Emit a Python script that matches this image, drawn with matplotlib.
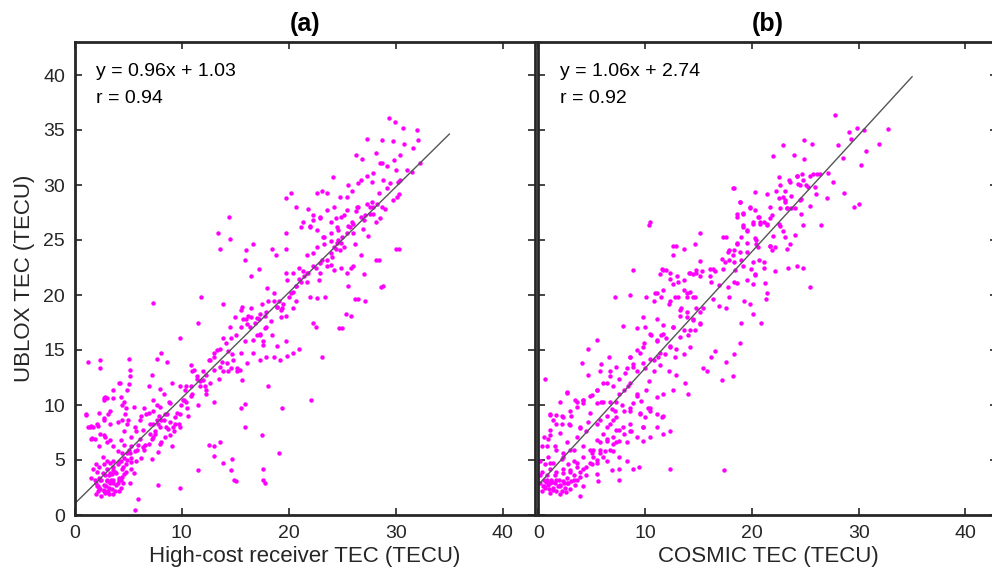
import numpy as np
import matplotlib.pyplot as plt

plt.rcParams['font.family'] = ['Liberation Sans', 'DejaVu Sans']

# (x, y) points, panel (a): high-cost receiver vs UBLOX
pts_a = [
    (29.4, 36.1), (29.9, 35.7), (30.7, 35.2), (32.0, 35.0), (27.3, 34.2), (28.7, 34.1), (29.7, 34.0),
    (30.8, 33.7), (31.6, 33.4), (32.1, 34.1), (26.3, 32.7), (26.8, 32.4), (28.1, 32.9), (28.7, 32.0),
    (30.4, 32.7), (30.0, 31.4), (31.5, 31.2), (32.3, 32.0), (24.1, 30.7), (25.5, 30.0), (26.5, 30.2),
    (27.8, 30.3), (28.4, 29.3), (29.2, 29.7), (30.2, 30.3), (30.3, 29.2), (29.7, 28.6), (23.1, 29.5),
    (23.6, 29.3), (22.6, 29.3), (19.7, 28.8), (20.2, 29.3), (20.7, 28.0), (14.4, 27.1), (13.4, 25.6),
    (13.6, 24.2), (14.5, 25.1), (16.0, 24.1), (16.7, 24.6), (18.4, 24.2), (18.8, 23.6), (19.7, 25.6),
    (19.7, 24.2), (15.9, 23.2), (16.5, 21.7), (17.2, 22.4),
    (21.3, 26.6), (21.8, 27.8), (22.3, 27.3), (22.9, 27.0), (22.0, 26.3), (22.6, 25.9), (23.3, 25.3),
    (23.9, 26.6), (24.6, 25.9), (25.2, 27.3), (25.9, 26.6), (26.5, 28.0), (27.1, 27.3), (27.6, 28.0),
    (28.1, 26.6), (28.7, 28.0), (27.8, 28.5), (25.5, 26.3), (26.0, 25.6), (25.0, 25.3), (23.9, 24.9),
    (23.3, 24.6), (24.4, 24.2), (25.2, 24.4), (26.2, 24.6), (26.7, 23.6), (27.0, 21.9), (28.1, 23.2),
    (25.8, 22.5), (24.9, 22.5), (23.9, 22.7), (23.1, 23.2), (22.5, 22.5), (21.7, 23.6), (21.3, 22.2),
    (21.0, 21.5), (20.7, 20.8), (21.7, 21.2), (22.0, 19.8), (22.6, 19.7), (23.4, 19.8), (25.5, 20.8),
    (26.5, 19.6), (27.1, 19.5), (25.8, 18.1), (24.7, 17.0), (22.3, 17.5), (22.5, 17.1), (23.1, 14.4),
    (28.6, 20.7), (28.4, 23.2), (30.0, 24.2), (21.7, 22.0), (20.4, 22.0), (21.0, 22.5), (30.3, 24.2),
    (28.8, 20.8), (25.0, 17.0), (25.3, 18.3), (26.2, 19.6), (24.4, 27.0), (26.9, 26.0), (27.4, 25.4),
    (24.0, 23.5), (22.8, 21.4), (27.9, 27.4), (29.0, 27.8), (28.5, 27.0), (26.3, 27.6), (24.9, 24.7),
    (15.5, 18.6), (15.7, 17.8), (16.2, 18.1), (16.5, 18.8), (16.8, 17.5), (17.5, 19.2), (17.8, 18.1),
    (18.1, 19.5), (18.6, 20.2), (19.1, 19.5), (19.4, 18.8), (19.7, 18.1), (20.2, 20.2), (20.7, 19.5),
    (20.4, 18.8), (17.8, 17.0), (17.3, 16.4), (17.6, 15.8), (18.4, 16.4), (18.9, 15.4), (19.7, 15.8),
    (20.4, 14.7), (21.0, 15.1), (18.6, 14.4), (18.1, 11.7), (16.7, 14.7), (15.9, 15.8), (15.5, 14.7),
    (15.2, 13.4), (14.6, 13.4), (13.8, 13.9), (13.9, 13.1), (13.0, 14.4), (14.3, 14.9), (13.9, 19.2),
    (14.6, 16.1), (12.3, 12.7), (11.7, 12.2), (12.2, 11.7), (12.6, 12.0), (11.0, 11.0), (11.5, 17.5),
    (11.8, 19.8), (10.4, 11.7), (11.0, 13.1), (13.0, 10.3), (15.5, 9.7), (15.9, 8.0), (15.9, 10.1),
    (19.4, 9.7), (22.1, 10.5), (19.1, 5.6), (17.5, 7.3), (17.6, 4.2), (17.8, 2.9), (17.6, 3.2),
    (12.5, 6.4), (13.0, 6.3), (13.6, 6.6), (13.0, 5.4), (14.7, 5.1), (13.9, 4.7), (11.5, 4.1),
    (14.6, 4.1), (14.9, 3.2), (15.1, 3.1), (18.0, 20.6), (18.9, 18.9), (17.0, 17.9), (19.8, 21.4),
    (10.4, 10.3), (10.9, 11.7), (11.4, 12.4), (12.0, 13.1), (12.5, 14.1), (13.0, 14.7), (13.6, 15.1),
    (14.1, 15.6), (14.7, 14.6), (15.1, 16.4), (15.5, 17.1), (16.0, 17.8), (16.4, 17.1), (17.0, 16.4),
    (17.2, 17.8), (15.2, 13.1), (14.3, 13.1), (13.5, 12.4), (12.3, 11.0), (11.5, 10.0), (10.6, 9.0),
    (6.5, 9.7), (6.9, 9.3), (7.3, 10.5), (7.7, 10.0), (8.0, 11.5), (8.3, 11.0), (8.8, 10.3),
    (7.8, 8.3), (8.1, 8.6), (8.5, 8.0), (8.9, 8.5), (7.5, 7.6), (7.2, 6.9), (8.1, 6.6),
    (8.9, 7.3), (9.4, 8.3), (9.6, 9.3), (9.9, 10.0), (10.2, 10.5), (9.8, 8.0), (9.1, 6.3),
    (9.3, 7.6), (9.8, 11.7), (9.1, 12.0), (8.1, 14.7), (8.6, 13.9), (7.7, 14.2), (9.8, 16.1),
    (10.9, 13.6), (7.2, 12.7), (6.9, 11.7), (6.2, 9.0), (5.7, 7.6), (6.1, 6.9), (6.5, 5.9),
    (6.2, 5.2), (5.3, 5.2), (7.2, 5.1), (7.8, 5.7), (7.3, 8.3), (4.6, 7.6), (4.9, 8.3),
    (5.3, 7.1), (4.6, 6.4), (8.4, 9.2), (7.9, 9.0), (8.7, 7.8), (7.0, 7.4), (6.6, 6.4),
    (1.2, 13.9), (2.4, 14.1), (2.4, 13.4), (5.1, 14.2), (5.2, 13.2), (4.1, 12.0), (5.1, 11.9),
    (3.6, 11.4), (2.8, 10.7), (2.7, 10.5), (4.3, 10.7), (4.6, 10.3), (4.8, 9.7), (3.3, 9.5),
    (2.3, 9.3), (1.1, 9.2), (1.5, 8.1), (2.2, 8.1), (2.7, 8.6), (3.3, 8.3), (4.0, 8.5),
    (4.4, 8.6), (1.9, 6.9), (2.7, 7.3), (3.0, 6.6), (3.6, 6.3), (2.3, 6.3), (1.2, 8.0),
    (1.5, 6.9), (4.3, 6.8), (4.0, 5.8), (3.6, 4.9),
    (2.0, 2.9), (2.2, 2.2), (2.3, 2.5), (2.5, 3.2), (2.7, 2.7), (2.8, 2.0), (3.0, 3.1),
    (3.2, 3.6), (3.3, 2.9), (3.5, 2.4), (3.6, 3.2), (3.8, 3.9), (4.0, 2.9), (4.1, 3.4),
    (4.3, 2.5), (4.4, 4.2), (2.1, 3.9), (2.3, 4.4), (2.7, 4.6), (3.0, 4.2), (3.3, 4.7),
    (3.6, 4.1), (4.0, 4.6), (4.3, 4.9), (4.6, 5.2), (4.8, 4.6), (4.9, 5.6), (5.1, 5.9),
    (5.3, 6.3), (5.6, 5.8), (5.7, 4.9), (5.9, 6.4), (5.3, 4.2), (5.2, 2.9), (2.0, 1.9),
    (2.5, 1.7), (3.2, 1.9), (3.8, 2.2), (4.3, 3.2), (4.6, 3.7), (2.8, 3.6), (2.3, 3.4),
    (3.2, 2.5), (4.1, 2.2), (3.6, 1.9), (1.9, 3.2), (2.7, 2.2), (3.4, 3.2), (4.5, 2.9),
    (3.0, 4.9), (2.0, 4.6), (2.6, 5.3), (1.5, 3.4), (1.7, 4.2), (2.4, 2.4), (2.9, 2.6),
    (3.1, 2.2), (3.9, 2.7), (4.8, 3.9), (2.1, 2.6), (2.6, 3.8), (3.5, 3.7),
    (7.3, 19.3), (5.9, 1.5), (5.6, 0.5), (7.8, 2.7), (9.8, 2.5), (19.7, 22.0),
    # second pass over the dense parts
    (1.1, 9.1), (1.4, 8.0), (1.7, 8.0), (1.6, 7.0), (2.1, 8.3), (2.4, 7.4), (2.8, 7.1),
    (3.3, 6.8), (2.7, 8.8), (3.1, 9.2), (2.7, 10.6), (3.0, 10.6), (3.6, 10.6), (4.2, 12.0),
    (4.9, 11.4), (5.2, 12.6), (4.4, 10.0), (4.7, 9.2), (5.0, 8.6), (5.5, 9.8), (5.6, 8.0),
    (6.1, 8.6), (6.4, 7.7), (6.7, 9.2), (7.0, 8.3), (7.5, 7.4), (7.7, 8.6), (8.0, 8.0),
    (8.3, 8.6), (8.6, 9.2), (8.0, 9.8), (7.3, 9.5), (8.9, 10.2), (9.2, 8.0), (9.4, 8.9),
    (9.7, 8.3), (9.8, 9.2), (10.1, 10.5), (10.3, 11.4), (10.5, 9.7), (6.4, 6.2), (6.9, 6.5),
    (7.3, 7.1), (8.0, 6.5), (8.4, 7.1), (5.8, 5.9), (5.2, 5.6), (4.9, 5.0), (4.4, 5.6),
    (4.1, 4.8), (3.6, 4.4), (3.3, 3.8), (3.9, 3.8), (4.4, 3.5), (3.0, 3.2), (2.4, 3.2),
    (2.2, 2.6), (2.7, 2.3), (3.6, 2.9), (4.1, 3.2), (4.5, 4.4), (5.3, 4.8), (5.5, 3.8),
    (12.6, 14.1), (13.0, 13.2), (13.6, 13.5), (14.2, 13.8), (14.8, 14.1), (12.0, 12.3), (12.3, 11.4),
    (11.7, 11.7), (10.9, 10.8), (11.4, 12.6), (11.1, 13.2), (15.4, 13.2), (16.1, 13.8), (15.6, 12.3),
    (16.7, 15.9), (17.3, 16.5), (17.9, 17.1), (16.1, 17.4), (16.5, 18.0), (17.3, 18.3), (17.9, 18.5),
    (18.3, 17.6), (18.9, 18.9), (19.3, 18.0), (18.6, 19.5), (15.6, 18.9), (15.0, 18.0), (14.5, 17.1),
    (13.9, 16.1), (13.3, 15.0), (17.3, 14.1), (17.9, 14.4), (19.2, 14.1), (19.8, 14.5), (17.6, 15.5),
    (24.5, 24.7), (24.2, 24.4), (24.8, 24.1), (24.6, 25.0), (23.9, 23.8), (23.6, 23.2), (22.9, 22.9),
    (22.3, 22.6), (21.8, 22.0), (21.4, 21.7), (21.1, 21.2), (20.7, 20.8), (20.4, 20.3), (20.0, 19.8),
    (19.5, 19.2), (19.3, 18.6), (25.4, 25.6), (25.7, 26.2), (26.0, 26.5), (26.7, 27.1), (27.0, 26.8),
    (27.6, 27.4), (27.9, 28.0), (28.2, 28.3), (27.3, 28.3), (26.4, 28.0), (25.4, 27.7), (24.9, 27.1),
    (24.5, 26.2), (23.9, 25.6), (23.2, 25.3), (22.6, 24.4), (22.3, 23.8), (22.9, 22.0), (23.6, 22.6),
    (24.2, 22.3), (25.4, 22.0), (26.0, 22.6), (25.4, 28.9), (25.9, 29.5), (26.7, 30.5), (27.3, 30.8),
    (27.9, 31.1), (28.5, 32.0), (29.2, 31.7), (29.8, 32.3), (30.4, 30.5), (30.1, 28.9), (31.0, 31.4),
    (28.8, 30.5), (29.5, 30.2), (24.8, 28.9), (24.2, 28.0), (23.6, 27.7), (22.9, 27.1), (22.3, 26.8),
    (22.0, 26.2), (21.1, 26.2),
]

# panel (b): COSMIC vs UBLOX
pts_b = [
    (27.8, 36.4), (29.1, 34.8), (29.8, 35.2), (30.5, 35.0), (32.7, 35.1), (31.9, 33.7), (30.7, 33.1),
    (29.3, 34.2), (28.1, 33.6), (24.9, 34.1), (25.6, 33.7), (22.9, 33.6), (23.9, 32.7), (24.9, 32.4),
    (22.0, 32.6), (28.5, 32.5), (30.2, 31.8), (27.1, 31.1), (25.7, 31.0), (26.1, 31.0), (24.7, 31.0),
    (24.2, 30.8), (22.5, 30.7), (23.6, 30.3), (25.1, 30.0), (24.3, 30.1), (22.6, 30.0), (23.1, 29.5),
    (28.6, 29.3), (27.0, 28.8), (30.0, 28.3), (29.6, 28.0), (26.5, 26.4), (25.4, 28.1), (24.6, 28.7),
    (23.1, 28.6), (22.5, 28.8), (21.7, 28.0), (23.3, 27.9), (24.0, 27.9), (24.6, 27.4), (18.2, 29.7),
    (18.9, 28.5), (20.3, 29.4), (21.4, 29.2), (19.8, 28.0), (18.6, 27.4), (19.2, 27.5), (20.7, 27.1),
    (21.1, 26.6), (20.1, 26.6), (20.8, 26.6), (21.4, 26.4), (19.2, 26.4), (22.6, 26.3), (22.9, 25.8),
    (23.1, 25.3), (24.0, 25.5), (22.0, 25.4), (21.7, 24.5), (22.2, 24.4), (23.3, 24.2), (23.6, 24.6),
    (19.5, 25.9), (20.3, 25.2), (18.6, 24.6), (17.9, 24.1), (18.2, 23.6), (19.0, 23.2), (19.5, 23.9),
    (20.4, 24.6), (20.7, 23.2), (21.1, 22.5), (22.2, 22.2), (20.3, 21.9), (20.1, 21.0), (21.2, 21.1),
    (21.4, 20.2), (21.3, 19.6), (19.3, 19.5), (19.8, 19.2), (20.9, 17.5), (20.1, 18.3), (19.0, 17.5),
    (18.9, 15.6), (18.3, 14.6), (17.6, 13.9), (18.2, 12.6), (17.2, 12.3), (16.5, 14.9), (16.2, 14.4),
    (15.4, 13.4), (15.8, 13.1), (23.4, 22.5), (24.2, 22.6), (24.8, 22.5), (25.4, 20.7), (24.8, 26.4),
    (26.4, 31.0), (10.5, 26.6), (10.4, 26.4), (17.3, 25.3), (17.6, 25.3), (17.2, 23.3), (17.9, 23.2),
    (16.5, 22.2), (16.1, 22.4), (17.3, 22.4), (17.9, 19.8), (17.6, 18.8), (16.4, 19.6), (16.9, 19.0),
    (17.8, 20.7), (18.3, 21.2), (21.9, 27.3), (23.7, 29.0), (26.0, 29.2), (27.6, 30.3), (19.9, 22.4),
    (12.6, 24.5), (12.9, 24.5), (13.6, 24.2), (14.7, 24.6), (15.1, 25.6), (11.6, 22.4), (12.0, 22.3),
    (12.6, 23.6), (14.1, 22.0), (14.5, 21.9), (14.8, 22.0), (15.1, 23.1), (15.3, 22.2), (11.4, 21.9),
    (12.3, 21.5), (12.6, 21.0), (13.1, 21.2), (13.6, 20.5), (13.9, 19.8), (14.2, 20.3), (14.7, 19.8),
    (10.9, 20.2), (11.5, 19.8), (12.2, 19.2), (12.8, 19.8), (13.4, 18.8), (13.9, 18.5), (14.8, 18.8),
    (15.1, 18.5), (15.4, 18.8), (14.5, 17.8), (15.1, 17.5), (13.3, 18.1), (12.6, 17.1), (13.6, 16.8),
    (14.0, 16.4), (14.7, 16.8), (10.1, 19.8), (10.8, 19.5), (9.8, 18.0), (8.9, 22.3), (8.6, 20.0),
    (7.2, 19.8), (7.9, 17.2), (9.2, 17.0), (10.0, 17.1), (11.1, 17.8), (11.7, 17.3), (11.5, 16.4),
    (10.6, 16.4), (11.1, 15.8), (12.0, 16.1), (12.3, 15.4), (12.9, 15.1), (13.6, 14.6), (14.2, 15.3),
    (12.8, 14.4), (11.9, 14.6), (11.2, 14.4), (10.5, 14.2), (9.5, 14.7), (8.9, 13.7), (8.3, 13.4),
    (8.6, 14.4), (9.2, 13.1), (10.0, 13.4), (10.8, 13.1), (11.4, 13.6), (12.2, 13.1), (12.9, 12.7),
    (13.7, 12.0), (14.0, 11.0), (12.6, 11.4), (11.7, 11.0), (11.1, 10.7), (10.1, 11.4), (9.2, 11.0),
    (8.4, 11.7), (7.6, 12.4), (7.6, 11.0), (7.0, 11.7), (6.4, 12.0), (6.6, 14.4), (5.9, 13.7),
    (5.8, 13.1), (6.7, 13.1), (5.5, 15.9), (4.7, 15.1), (4.1, 13.8), (4.7, 12.7), (5.5, 11.4),
    (6.1, 10.3), (7.3, 10.3), (8.6, 9.7), (9.5, 9.3), (10.3, 9.7), (11.7, 9.0), (12.3, 7.6),
    (11.1, 8.0), (9.8, 8.0), (8.7, 7.6), (7.9, 8.0), (7.0, 8.6), (6.4, 9.0), (5.5, 8.3),
    (4.8, 9.3), (4.2, 10.5), (3.6, 10.3), (2.7, 11.2), (2.0, 10.3), (3.1, 9.0), (2.2, 9.0),
    (1.4, 8.6), (1.1, 9.2), (0.6, 12.4), (2.9, 8.3), (3.9, 8.0), (4.5, 7.6), (3.6, 7.1),
    (2.7, 6.6), (2.0, 7.5), (1.1, 7.3), (0.5, 7.1), (0.8, 6.3), (1.6, 6.3), (2.3, 5.6),
    (3.3, 5.9), (4.2, 6.3), (5.0, 5.6), (5.8, 6.6), (6.4, 6.9), (7.3, 6.6), (8.3, 6.6),
    (5.8, 5.6), (6.4, 4.9), (7.0, 5.8), (7.6, 5.3), (8.3, 4.9), (8.9, 4.2), (9.4, 4.4),
    (7.6, 3.2), (5.6, 3.1), (5.0, 4.6), (4.2, 4.2), (3.9, 1.7), (12.3, 4.2), (17.4, 4.1),
    (5.5, 3.7), (4.5, 3.6), (9.9, 15.6), (10.4, 12.2), (8.1, 12.9), (6.9, 9.6), (9.6, 10.4),
    (0.2, 2.9), (0.3, 2.2), (0.5, 3.2), (0.6, 2.5), (0.8, 3.6), (0.9, 2.7), (1.1, 2.0),
    (1.2, 3.2), (1.4, 2.5), (1.6, 2.9), (1.7, 2.2), (1.9, 3.2), (2.0, 2.7), (2.2, 2.2),
    (2.3, 3.1), (2.5, 2.5), (2.7, 3.4), (2.8, 2.9), (3.0, 2.4), (3.1, 3.1), (3.3, 3.6),
    (3.4, 2.7), (3.6, 3.2), (2.0, 1.9), (2.3, 4.2), (1.7, 3.9), (1.1, 4.2), (0.6, 4.6),
    (0.2, 4.9), (0.3, 3.9), (1.4, 4.7), (2.8, 4.6), (3.3, 4.9), (2.2, 5.1), (0.9, 5.3),
    (3.9, 3.9), (3.6, 4.4), (3.0, 3.9), (0.2, 3.6), (1.6, 3.6), (0.3, 6.3), (0.9, 6.9),
    (0.4, 2.6), (1.0, 2.4), (1.3, 3.0), (1.8, 2.6), (2.4, 2.9), (2.6, 2.1), (0.7, 3.0),
    # second pass over the dense parts
    (11.7, 22.3), (12.3, 22.0), (13.0, 21.7), (13.6, 21.4), (14.2, 22.0), (14.8, 22.3), (15.1, 21.7),
    (11.1, 20.2), (11.7, 20.5), (12.3, 19.5), (13.1, 19.8), (13.9, 20.2), (14.5, 19.8), (13.3, 18.6),
    (13.9, 18.0), (14.5, 17.7), (15.1, 17.4), (12.6, 17.1), (11.7, 16.5), (11.1, 15.9), (10.5, 16.5),
    (9.8, 15.3), (9.2, 15.0), (8.6, 14.4), (8.9, 13.5), (9.8, 13.8), (10.8, 14.1), (11.4, 14.7),
    (12.3, 15.3), (13.3, 16.2), (14.2, 16.8), (7.3, 13.5), (6.7, 12.6), (6.1, 12.0), (5.5, 11.4),
    (4.8, 10.8), (4.2, 10.2), (3.6, 9.8), (3.0, 9.5), (2.3, 8.9), (1.7, 8.3), (1.1, 7.7),
    (8.0, 11.4), (8.6, 12.0), (9.2, 10.8), (8.0, 9.5), (8.6, 8.3), (7.3, 8.9), (6.7, 8.3),
    (6.1, 7.4), (5.5, 6.8), (4.8, 5.9), (4.2, 5.3), (3.6, 4.7), (3.0, 4.1), (2.3, 3.8),
    (1.7, 3.2), (1.1, 2.9), (0.5, 2.6), (7.0, 7.1), (7.6, 7.7), (9.8, 8.0), (10.5, 9.5),
    (6.7, 5.9), (6.1, 5.3), (5.5, 4.7), (5.1, 5.9), (4.5, 4.4), (3.3, 3.2), (2.7, 2.9),
    (2.0, 2.6), (1.4, 2.3), (0.8, 3.2), (3.9, 3.5), (4.2, 2.6), (3.0, 5.9), (2.3, 5.3),
    (1.7, 5.9), (1.1, 4.7), (18.3, 29.7), (18.9, 28.5), (18.6, 27.1), (19.2, 27.4), (19.8, 27.9),
    (20.3, 27.7), (20.6, 27.1), (20.1, 26.5), (20.8, 26.5), (21.4, 26.5), (21.7, 27.0), (19.2, 26.2),
    (19.5, 25.8), (19.0, 25.3), (18.6, 24.7), (18.3, 24.1), (17.8, 23.9), (18.9, 23.9), (19.5, 24.7),
    (20.4, 25.0), (20.6, 24.4), (21.7, 24.5), (21.9, 24.1), (20.1, 23.0), (19.2, 22.6), (18.4, 22.3),
    (18.3, 23.0), (17.5, 23.0), (16.4, 22.4), (16.1, 21.7), (16.2, 21.2), (16.9, 20.9), (18.6, 21.1),
    (19.5, 21.4), (20.3, 21.8), (21.1, 23.0), (22.5, 26.5), (22.6, 27.9), (23.1, 28.5), (23.3, 27.9),
    (23.7, 27.9), (24.5, 28.6), (22.9, 28.9), (22.3, 29.5), (23.5, 30.5), (24.2, 30.8), (24.8, 30.5),
    (25.4, 30.8), (24.5, 30.0), (25.3, 29.8), (25.9, 29.8),
    (2.7, 11.1), (3.4, 10.5), (4.2, 10.5), (5.0, 10.9), (5.5, 10.2), (5.9, 10.3), (6.7, 10.3),
    (7.2, 9.5), (7.8, 10.0), (8.6, 9.5), (8.9, 10.2), (9.5, 9.2), (10.0, 8.9), (10.5, 9.7),
    (11.1, 9.2), (11.6, 8.9), (1.1, 9.1), (1.7, 9.1), (2.2, 8.3), (3.0, 8.2), (3.9, 7.9),
    (4.7, 8.5), (5.8, 8.6), (6.4, 8.0), (7.3, 7.7), (8.0, 7.4), (8.6, 7.6), (9.2, 7.1),
    (9.8, 6.7), (10.5, 7.1), (11.7, 7.4), (6.4, 6.7), (7.0, 6.5), (7.6, 6.7), (5.8, 5.9),
    (5.1, 5.3), (5.5, 5.0), (4.8, 4.7), (6.2, 5.8), (6.9, 4.1), (7.6, 4.2),
]

# regression lines (slope, intercept) and r from the picture
fit_a = (0.96, 1.03)
fit_b = (1.06, 2.74)
r_a = 0.94
r_b = 0.92

titles = ['(a)', '(b)']
xlabels = ['High-cost receiver TEC (TECU)', 'COSMIC TEC (TECU)']

W, H = 992, 582
fig = plt.figure(figsize=(W / 100, H / 100), dpi=100)
ax_a = fig.add_axes([74.7 / W, 67 / H, 460.3 / W, 473 / H])
ax_b = fig.add_axes([538.3 / W, 67 / H, 459.2 / W, 473 / H])

dark = '#262626'
xfit = np.array([0, 35])

for ax, pts, fit, r, title, xl in zip([ax_a, ax_b], [pts_a, pts_b], [fit_a, fit_b],
                                      [r_a, r_b], titles, xlabels):
    x = [p[0] for p in pts]
    y = [p[1] for p in pts]
    ax.plot(x, y, 'o', color='#ff00ff', markersize=3.2, markeredgewidth=0)
    ax.plot(xfit, fit[0] * xfit + fit[1], color='#555555', lw=1)
    ax.set_xlim(0, 43)
    ax.set_ylim(0, 43)
    ax.set_xticks([0, 10, 20, 30, 40])
    ax.set_yticks([0, 5, 10, 15, 20, 25, 30, 35, 40])
    ax.tick_params(direction='in', top=True, right=True, length=5, width=1.2,
                   colors=dark, labelsize=14, labelcolor=dark, pad=7)
    for s in ax.spines.values():
        s.set_linewidth(2)
        s.set_color(dark)
    ax.set_title(title, fontsize=18, fontweight='bold', color='black', pad=8)
    ax.set_xlabel(xl, fontsize=16, color=dark, labelpad=3)
    ax.text(2.0, 40.3, 'y = %.2fx + %.2f' % fit, fontsize=14, color='black', va='center')
    ax.text(2.0, 37.9, 'r = %.2f' % r, fontsize=14, color='black', va='center')

ax_a.set_ylabel('UBLOX TEC (TECU)', fontsize=16, color=dark, labelpad=6)
ax_b.tick_params(labelleft=False)

fig.savefig('out.png', dpi=100)
plt.close(fig)
